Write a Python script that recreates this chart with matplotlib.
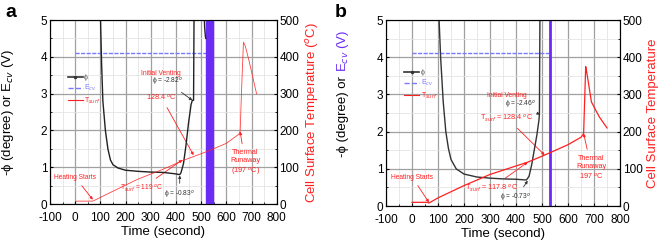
import numpy as np
import matplotlib
matplotlib.use("Agg")
import matplotlib.pyplot as plt
from matplotlib.ticker import MultipleLocator

plt.rcParams['font.family'] = ['Liberation Sans', 'DejaVu Sans']
plt.rcParams['axes.unicode_minus'] = False

#------ donnees ------------------------------------------#
# panneau a
t_phi_a = [100, 105, 110, 120, 130, 140, 150, 170, 200, 250, 300, 350, 400, 415,
           420, 430, 440, 450, 460, 465, 470, 472]
phi_a = [5.2, 3.8, 2.8, 2.0, 1.5, 1.2, 1.07, 0.98, 0.92, 0.89, 0.87, 0.86, 0.82, 0.8,
         0.85, 1.1, 1.6, 2.2, 2.7, 2.82, 2.82, 5.2]
t_phi2_a = [512, 514, 517, 519]
phi2_a = [5.2, 4.8, 4.55, 4.5]
t_ecv_a = [0, 520]
ecv_a = [4.1, 4.1]
t_T_a = [5, 70, 150, 250, 350, 430, 520, 600, 650, 655, 660, 668, 675, 690, 720]
T_a = [8, 8, 35, 68, 95, 119, 142, 165, 190, 198, 300, 440, 430, 390, 300]
band_a = (519, 547)

# panneau b
t_phi_b = [103, 110, 120, 130, 140, 150, 170, 200, 250, 300, 350, 400, 440,
           450, 460, 470, 480, 488, 490, 492]
phi_b = [5.2, 4.0, 2.8, 2.0, 1.55, 1.25, 1.0, 0.86, 0.78, 0.75, 0.73, 0.72, 0.70,
         0.8, 1.1, 1.5, 1.9, 2.3, 2.46, 5.2]
t_ecv_b = [0, 525]
ecv_b = [4.12, 4.12]
t_T_b = [0, 60, 65, 100, 200, 300, 445, 510, 600, 650, 660, 662, 668, 672, 690, 720, 750]
T_b = [10, 10, 8, 22, 55, 85, 118, 137, 165, 185, 195, 240, 375, 360, 280, 240, 210]
vline_b = 530
#----------------------------------------------------------#

RED = '#ff2020'
BLUE = '#7a7aff'
PURPLE = '#6a2cf5'

fig = plt.figure(figsize=(6.61, 2.45), dpi=100)
axa = fig.add_axes([0.0756, 0.167, 0.343, 0.751])
axb = fig.add_axes([0.584, 0.159, 0.354, 0.759])


def habillage(ax):
    ax.set_xlim(-100, 800)
    ax.set_ylim(0, 5)
    ax.xaxis.set_major_locator(MultipleLocator(100))
    ax.xaxis.set_minor_locator(MultipleLocator(50))
    ax.yaxis.set_major_locator(MultipleLocator(1))
    ax.yaxis.set_minor_locator(MultipleLocator(0.5))
    ax.grid(which='major', color='#a0a0a0', lw=0.9)
    ax.grid(which='minor', color='#e4e4e4', lw=0.6)
    ax.set_axisbelow(True)
    ax.tick_params(labelsize=8.5, length=2.5, direction='in', pad=2)
    ax.tick_params(axis='x', pad=6)
    ax.tick_params(which='minor', length=1.5, direction='in')
    for s in ax.spines.values():
        s.set_color('#555555')
    ax.set_xlabel("Time (second)", fontsize=9.5, labelpad=1)
    ax2 = ax.twinx()
    ax2.set_ylim(0, 500)
    ax2.yaxis.set_major_locator(MultipleLocator(100))
    ax2.yaxis.set_minor_locator(MultipleLocator(50))
    ax2.tick_params(labelsize=8.5, length=2.5, direction='in', pad=2)
    ax2.tick_params(which='minor', length=1.5, direction='in')
    return ax2


def legende(ax, x0, y0):
    h1, = ax.plot([], [], color='#333333', lw=1.2, marker='o', ms=1.5)
    h2, = ax.plot([], [], color=BLUE, lw=1.0, ls='--')
    h3, = ax.plot([], [], color=RED, lw=0.8)
    leg = ax.legend([h1, h2, h3], ["ϕ", "E$_{cv}$", "T$_{surf}$"], loc='upper left',
                    bbox_to_anchor=(x0, y0), fontsize=5, frameon=False,
                    handlelength=2.2, handletextpad=0.2, labelspacing=0.3)
    for txt, c in zip(leg.get_texts(), ['#555555', BLUE, RED]):
        txt.set_color(c)


def note(ax, texte, xy, xytext, color, fs=4.8):
    ax.annotate(texte, xy=xy, xytext=xytext, color=color, fontsize=fs,
                ha='center', va='center',
                arrowprops=dict(arrowstyle='-|>', color=color, lw=0.6,
                                mutation_scale=4, shrinkA=2, shrinkB=0))


# ---------------- panneau a ----------------
axa2 = habillage(axa)
axa.set_ylabel("-ϕ (degree) or E$_{cv}$ (V)", fontsize=9.5)
axa.yaxis.set_label_coords(-0.15, 0.5)
axa.axvspan(band_a[0], band_a[1], color=PURPLE, zorder=3)
axa.plot(t_ecv_a, ecv_a, color=BLUE, lw=1.0, ls='--', dashes=(3, 1), zorder=2)
axa.plot(t_phi_a, phi_a, color='#222222', lw=1.0, zorder=4)
axa.plot(t_phi2_a, phi2_a, color='#222222', lw=1.0, zorder=4)
axa2.plot(t_T_a, T_a, color=RED, lw=0.6, alpha=0.85)
axa2.set_ylabel("Cell Surface Temperature ($^o$C)", color=RED, fontsize=9.5, labelpad=3)
legende(axa, 0.05, 0.74)
note(axa, "Heating Starts", (70, 0.12), (0, 0.73), RED)
note(axa, "Initial Venting", (340, 3.56), (340, 3.56), RED)
note(axa, "ϕ = -2.82$^o$", (465, 2.82), (366, 3.32), '#333333')
note(axa, "128.4 $^o$C", (470, 1.33), (342, 2.9), RED, 5.2)
note(axa, "T$_{surf}$ = 119 $^o$C", (425, 1.2), (265, 0.43), RED)
note(axa, "ϕ = -0.83$^o$", (415, 0.78), (415, 0.25), '#333333')
note(axa, "Thermal\nRunaway\n(197 $^o$C)", (655, 1.97), (675, 1.1), RED, 5.2)
fig.text(0.008, 0.95, "a", fontsize=14, fontweight='bold', ha='left', va='center')

# ---------------- panneau b ----------------
axb2 = habillage(axb)
axb.text(-0.185, 0.72, "-ϕ (degree) or ", transform=axb.transAxes, rotation=90,
         ha='center', va='top', fontsize=9.5)
axb.text(-0.185, 0.72, "E$_{cv}$ (V)", transform=axb.transAxes, rotation=90,
         ha='center', va='bottom', fontsize=9.5, color=PURPLE)
axb.axvline(vline_b, color=PURPLE, lw=2.0, zorder=3)
axb.plot(t_ecv_b, ecv_b, color=BLUE, lw=1.0, ls='--', dashes=(3, 1), zorder=2)
axb.plot(t_phi_b, phi_b, color='#333333', lw=1.0, zorder=4)
axb2.plot(t_T_b, T_b, color=RED, lw=0.9)
axb2.set_ylabel("Cell Surface Temperature", color=RED, fontsize=9.5, labelpad=3)
legende(axb, 0.05, 0.77)
note(axb, "Heating Starts", (65, 0.1), (0, 0.78), RED)
note(axb, "Initial Venting", (365, 2.98), (365, 2.98), RED)
note(axb, "ϕ = -2.46$^o$", (492, 2.46), (418, 2.71), '#333333')
note(axb, "T$_{surf}$ = 128.4 $^o$C", (510, 1.37), (365, 2.37), RED, 5.2)
note(axb, "T$_{surf}$ = 117.8 $^o$C", (445, 1.18), (305, 0.48), RED, 5.2)
note(axb, "ϕ = -0.73$^o$", (445, 0.68), (400, 0.22), '#333333')
note(axb, "Thermal\nRunaway\n197 $^o$C", (660, 1.95), (690, 1.02), RED, 5.2)
fig.text(0.507, 0.95, "b", fontsize=14, fontweight='bold', ha='left', va='center')

fig.savefig("out.png", dpi=100)
